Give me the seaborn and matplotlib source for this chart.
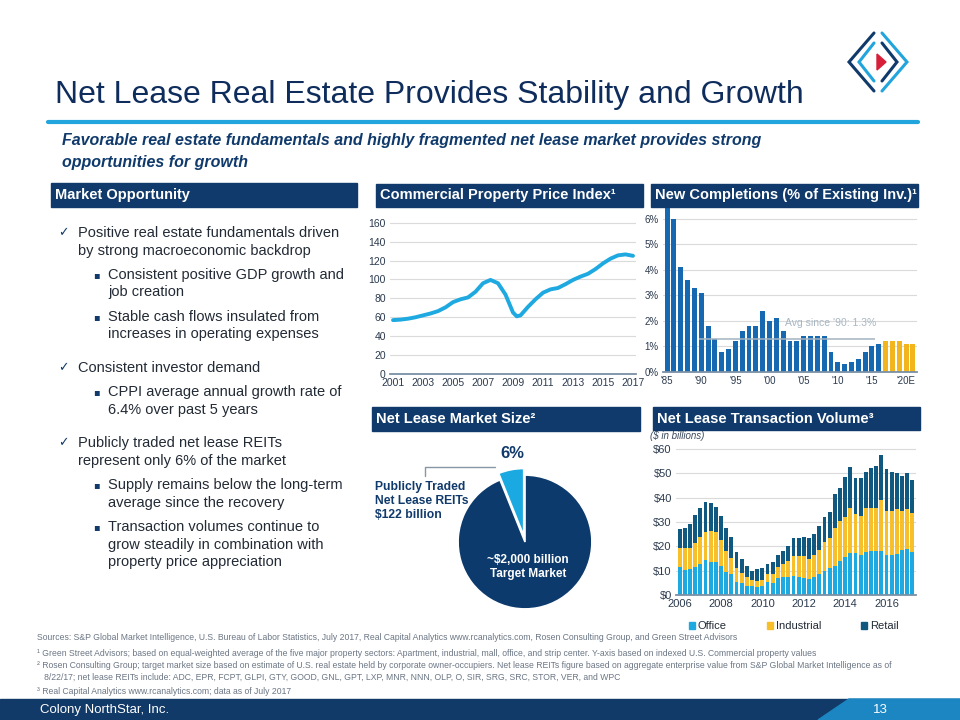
import numpy as np
import pandas as pd
import matplotlib
matplotlib.use("Agg")
import matplotlib.pyplot as plt
import seaborn as sns
from matplotlib.lines import Line2D
from matplotlib.patches import Rectangle, Polygon, Patch
from matplotlib import font_manager

# ---------------- data ----------------
# Commercial Property Price Index (half-year steps)
cppi_year = [2001.0, 2001.5, 2002.0, 2002.5, 2003.0, 2003.5, 2004.0, 2004.5, 2005.0, 2005.5,
             2006.0, 2006.5, 2007.0, 2007.5, 2008.0, 2008.5, 2009.0, 2009.25, 2009.5, 2010.0,
             2010.5, 2011.0, 2011.5, 2012.0, 2012.5, 2013.0, 2013.5, 2014.0, 2014.5, 2015.0,
             2015.5, 2016.0, 2016.5, 2017.0]
cppi_index = [57, 57.5, 58.5, 60, 62, 64, 66.5, 70.5, 76, 79,
              81, 87, 96, 99.5, 96, 84, 65, 61, 62, 71,
              79, 86, 89.5, 91, 95, 99.5, 103, 106, 111, 117,
              122, 125.5, 126.5, 125]

# New completions (% of existing inventory), 1985-2021E
compl_year = list(range(1985, 2022))
compl_pct = [6.4, 6.0, 4.1, 3.6, 3.3, 3.1, 1.8, 1.3, 0.8, 0.9,
             1.2, 1.6, 1.8, 1.8, 2.4, 2.0, 2.1, 1.6, 1.2, 1.2,
             1.4, 1.4, 1.4, 1.4, 0.8, 0.4, 0.3, 0.4, 0.5, 0.8,
             1.0, 1.1, 1.2, 1.2, 1.2, 1.1, 1.1]
compl_tick_years = [1985, 1990, 1995, 2000, 2005, 2010, 2015, 2020]
compl_tick_labels = ["'85", "'90", "'95", "'00", "'05", "'10", "'15", "'20E"]
first_estimate_year = 2017
avg_since_90 = 1.3

# Net lease market size ($ billions)
pie_parts = ["Publicly Traded Net Lease REITs", "Rest of Target Market"]
pie_values = [122, 1878]

# Net lease transaction volume ($ billions), quarterly 2006Q1-2017Q2
quarters = [f"{y}Q{q}" for y in range(2006, 2018) for q in range(1, 5)][:46]
office = [11.6, 10.3, 10.7, 11.4, 12.7, 14.4, 13.7, 13.6, 11.9, 9.3, 8.6, 5.5, 4.8, 3.7, 3.7, 3.4,
          3.8, 5.2, 4.8, 7.1, 7.5, 7.3, 7.9, 7.3, 7.1, 6.4, 7.3, 8.5, 9.9, 11.0, 11.9, 14.0,
          15.8, 17.1, 17.1, 16.4, 17.5, 18.2, 18.2, 18.2, 16.3, 16.3, 16.8, 18.5, 18.8, 17.7]
industrial = [7.9, 8.9, 8.8, 9.8, 11.3, 11.4, 12.7, 12.2, 10.7, 8.8, 6.7, 5.7, 4.4, 3.8, 2.5, 2.5,
              2.4, 3.4, 3.8, 4.3, 5.2, 6.7, 8.1, 8.7, 8.9, 8.4, 9.1, 10.0, 12.0, 12.6, 15.5, 16.4,
              16.4, 18.5, 16.2, 16.1, 18.1, 17.4, 17.4, 20.8, 18.4, 18.4, 18.5, 16.2, 16.4, 15.9]
retail = [7.6, 8.2, 9.7, 11.5, 11.6, 12.3, 11.3, 10.5, 10.0, 9.3, 8.7, 6.6, 5.5, 4.4, 3.8, 4.6,
          4.8, 4.1, 4.8, 5.0, 5.5, 6.3, 7.3, 7.3, 8.0, 8.8, 8.5, 10.0, 10.3, 10.6, 14.0, 13.4,
          16.4, 17.0, 14.9, 15.7, 15.1, 16.5, 17.4, 18.5, 17.2, 15.7, 14.7, 14.2, 14.8, 13.7]

# ---------------- style ----------------
NAVY = "#103a6b"
TITLE_NAVY = "#0f2d5c"
LIGHT_BLUE = "#22a4dc"
COMPL_BLUE = "#1669b0"
GOLD = "#f2b51d"
OFFICE_C = "#1ea9e1"
IND_C = "#f7c02b"
RETAIL_C = "#10587f"
TEXT_C = "#222a35"
TICK_C = "#2b3a4e"
GRID_C = "#dadada"

sns.set_style("white")
plt.rcParams["font.family"] = ["Liberation Sans", "DejaVu Sans"]

W, H = 960, 720
fig = plt.figure(figsize=(9.6, 7.2), dpi=100)


def fx(x):
    return x / W


def fy(y):
    return 1 - y / H


def add_ax(left, top, right, bottom):
    return fig.add_axes([fx(left), fy(bottom), (right - left) / W, (bottom - top) / H])


def header(left, top, right, bottom, text):
    fig.patches.append(Rectangle((fx(left), fy(bottom)), (right - left) / W, (bottom - top) / H,
                                 transform=fig.transFigure, color=NAVY, zorder=1))
    fig.text(fx(left + 4), fy((top + bottom) / 2), text, color="white", fontsize=10.5,
             fontweight="bold", va="center", ha="left")


def style_axes(ax, base_color="#7a90a6"):
    for s in ["top", "right", "left"]:
        ax.spines[s].set_visible(False)
    ax.spines["bottom"].set_color(base_color)
    ax.spines["bottom"].set_linewidth(1.3)
    ax.yaxis.grid(True, color=GRID_C, lw=0.8)
    ax.xaxis.grid(False)
    ax.set_axisbelow(True)
    ax.tick_params(length=0, colors=TICK_C)
    ax.set_xlabel("")
    ax.set_ylabel("")


# ---------------- title area ----------------
fig.text(fx(55), fy(95), "Net Lease Real Estate Provides Stability and Growth",
         fontsize=23, color=TITLE_NAVY, va="center", ha="left")
fig.lines.append(Line2D([fx(48), fx(918)], [fy(122), fy(122)], transform=fig.transFigure,
                        color=LIGHT_BLUE, lw=3))
fig.text(fx(62), fy(141), "Favorable real estate fundamentals and highly fragmented net lease market provides strong",
         fontsize=11.5, color=NAVY, fontweight="bold", style="italic", va="center")
fig.text(fx(62), fy(162), "opportunities for growth",
         fontsize=11.5, color=NAVY, fontweight="bold", style="italic", va="center")

# logo
logo = [((874, 33), (849, 62), (874, 91), NAVY),
        ((882, 33), (907, 62), (882, 91), LIGHT_BLUE),
        ((874, 43), (859, 62), (874, 81), LIGHT_BLUE),
        ((882, 43), (897, 62), (882, 81), NAVY)]
for a, b, c, col in logo:
    fig.lines.append(Line2D([fx(a[0]), fx(b[0]), fx(c[0])], [fy(a[1]), fy(b[1]), fy(c[1])],
                            transform=fig.transFigure, color=col, lw=2.2, solid_joinstyle="miter"))
fig.patches.append(Polygon([(fx(877), fy(54)), (fx(886), fy(62)), (fx(877), fy(70))],
                           closed=True, transform=fig.transFigure, color="#d71f3a"))

# ---------------- left column ----------------
header(51, 183, 357, 207, "Market Opportunity")
bullets = [
    ("check", 233, "Positive real estate fundamentals driven"),
    ("", 251, "by strong macroeconomic backdrop"),
    ("sq", 275, "Consistent positive GDP growth and"),
    ("", 292, "job creation"),
    ("sq", 317, "Stable cash flows insulated from"),
    ("", 334, "increases in operating expenses"),
    ("check", 368, "Consistent investor demand"),
    ("sq", 392, "CPPI average annual growth rate of"),
    ("", 410, "6.4% over past 5 years"),
    ("check", 443, "Publicly traded net lease REITs"),
    ("", 461, "represent only 6% of the market"),
    ("sq", 485, "Supply remains below the long-term"),
    ("", 503, "average since the recovery"),
    ("sq", 527, "Transaction volumes continue to"),
    ("", 545, "grow steadily in combination with"),
    ("", 562, "property price appreciation"),
]
level = "check"
for kind, y, txt in bullets:
    if kind:
        level = kind
    x_text = 78 if level == "check" else 108
    if kind == "check":
        fig.text(fx(58), fy(y), "\u2713", fontsize=9, color=NAVY, va="center",
                 family=["DejaVu Sans"])
    elif kind == "sq":
        fig.text(fx(93), fy(y), "\u25aa", fontsize=7, color=NAVY, va="center",
                 family=["DejaVu Sans"])
    fig.text(fx(x_text), fy(y), txt, fontsize=10.5, color=TEXT_C, va="center")

# ---------------- CPPI line ----------------
header(376, 184, 643, 207, "Commercial Property Price Index\u00b9")
ax1 = add_ax(390, 218, 636, 374)
sns.lineplot(x=cppi_year, y=cppi_index, color=OFFICE_C, lw=2.8, ax=ax1)
ax1.set_xlim(2000.8, 2017.2)
ax1.set_ylim(0, 165)
ax1.set_yticks(range(0, 161, 20))
ax1.set_xticks(range(2001, 2018, 2))
style_axes(ax1)
ax1.tick_params(labelsize=7.5, pad=3)

# ---------------- New completions ----------------
header(651, 184, 918, 207, "New Completions (% of Existing Inv.)\u00b9")
ax2 = add_ax(663, 207, 917, 372)
dfc = pd.DataFrame({"year": compl_year, "pct": compl_pct})
is_est = dfc["year"] >= first_estimate_year
for part, c in [(dfc[~is_est], COMPL_BLUE), (dfc[is_est], GOLD)]:
    sns.barplot(data=part, x="year", y="pct", order=compl_year, color=c, width=0.72,
                saturation=1, errorbar=None, linewidth=0, ax=ax2)
pos = {yr: i for i, yr in enumerate(compl_year)}
ax2.hlines(avg_since_90, pos[1990] - 0.4, pos[2015] + 0.4, color="#a3b3c0", lw=1.1, zorder=3)
ax2.text(pos[2002] + 0.3, 1.93, "Avg since '90: 1.3%", color="#a8b6c2", fontsize=7.5, va="center")
ax2.set_xlim(-0.6, len(compl_year) - 0.4)
ax2.set_ylim(0, 6.45)
ax2.set_yticks(range(0, 7))
ax2.set_yticklabels([f"{v}%" for v in range(0, 7)])
ax2.set_xticks([pos[y] for y in compl_tick_years])
ax2.set_xticklabels(compl_tick_labels)
style_axes(ax2)
ax2.tick_params(labelsize=7, pad=3)

# ---------------- Pie ----------------
header(372, 407, 640, 431, "Net Lease Market Size\u00b2")
ax3 = add_ax(438, 455, 612, 629)
ax3.pie(pie_values, colors=["#1ba9e1", "#0c3a6c"], startangle=90, counterclock=True,
        explode=[0.1, 0], wedgeprops=dict(edgecolor="white", linewidth=1.2))
ax3.set_xlim(-1.3, 1.3)
ax3.set_ylim(-1.3, 1.3)
ax3.set_aspect("equal")
ax3.axis("off")
share = pie_values[0] / sum(pie_values) * 100
fig.text(fx(512), fy(453), f"{share:.0f}%", fontsize=12, fontweight="bold", color=NAVY,
         ha="center", va="center")
fig.text(fx(375), fy(501), f"Publicly Traded\nNet Lease REITs\n${pie_values[0]} billion",
         fontsize=8.7, fontweight="bold", color=NAVY, ha="left", va="center", linespacing=1.2)
fig.text(fx(528), fy(567), f"~${sum(pie_values):,} billion\nTarget Market",
         fontsize=8.5, fontweight="bold", color="white", ha="center", va="center", linespacing=1.25)
fig.lines.append(Line2D([fx(425), fx(425), fx(495)], [fy(476), fy(467), fy(467)],
                        transform=fig.transFigure, color="#8797a6", lw=1))

# ---------------- Transaction volume ----------------
header(653, 407, 920, 430, "Net Lease Transaction Volume\u00b3")
fig.text(fx(650), fy(436), "($ in billions)", fontsize=7, style="italic", color="#3a4a5c", va="center")
ax4 = add_ax(676, 446.6, 916, 595)
dft = pd.DataFrame({"quarter": quarters, "Office": office, "Industrial": industrial, "Retail": retail})
dft["office_ind"] = dft["Office"] + dft["Industrial"]
dft["total"] = dft["office_ind"] + dft["Retail"]
for col, c in [("total", RETAIL_C), ("office_ind", IND_C), ("Office", OFFICE_C)]:
    sns.barplot(data=dft, x="quarter", y=col, color=c, width=0.74, saturation=1,
                errorbar=None, linewidth=0, ax=ax4)
ax4.set_xlim(-0.7, len(quarters) - 0.3)
ax4.set_ylim(0, 61)
ax4.set_yticks(range(0, 61, 10))
ax4.set_yticklabels([f"${v}" for v in range(0, 61, 10)])
ax4.set_xticks(range(0, len(quarters), 8))
ax4.set_xticklabels([quarters[i][:4] for i in range(0, len(quarters), 8)])
style_axes(ax4)
ax4.tick_params(labelsize=8, pad=3)
handles = [Patch(color=OFFICE_C), Patch(color=IND_C), Patch(color=RETAIL_C)]
ax4.legend(handles, ["Office", "Industrial", "Retail"], ncol=3, frameon=False, fontsize=8,
           loc="center", bbox_to_anchor=(0.49, -0.21), handlelength=0.55, handleheight=0.55,
           handletextpad=0.25, columnspacing=3.6, labelcolor=TEXT_C)

# ---------------- footnotes ----------------
names = {f.name for f in font_manager.fontManager.ttflist}
if "Liberation Sans Narrow" in names:
    fn_family, fn_size = ["Liberation Sans Narrow", "DejaVu Sans"], 6.6
else:
    fn_family, fn_size = ["Liberation Sans", "DejaVu Sans"], 6.2
notes = [
    (638, "Sources: S&P Global Market Intelligence, U.S. Bureau of Labor Statistics, July 2017, Real Capital Analytics www.rcanalytics.com, Rosen Consulting Group, and Green Street Advisors"),
    (653, "\u00b9 Green Street Advisors; based on equal-weighted average of the five major property sectors: Apartment, industrial, mall, office, and strip center. Y-axis based on indexed U.S. Commercial property values"),
    (666, "\u00b2 Rosen Consulting Group; target market size based on estimate of U.S. real estate held by corporate owner-occupiers. Net lease REITs figure based on aggregate enterprise value from S&P Global Market Intelligence as of"),
    (677, "   8/22/17; net lease REITs include: ADC, EPR, FCPT, GLPI, GTY, GOOD, GNL, GPT, LXP, MNR, NNN, OLP, O, SIR, SRG, SRC, STOR, VER, and WPC"),
    (692, "\u00b3 Real Capital Analytics www.rcanalytics.com; data as of July 2017"),
]
for y, t in notes:
    fig.text(fx(37), fy(y), t, fontsize=fn_size, color="#6b7684", va="center", family=fn_family)

# ---------------- footer ----------------
fig.patches.append(Rectangle((0, 0), 1, 21 / H, transform=fig.transFigure, color="#123a68", zorder=1))
fig.patches.append(Polygon([(fx(818), 0), (fx(849), 21 / H), (1, 21 / H), (1, 0)], closed=True,
                           transform=fig.transFigure, color="#1b86c2", zorder=2))
fig.text(fx(40), fy(710), "Colony NorthStar, Inc.", color="white", fontsize=9.5, va="center")
fig.text(fx(873), fy(710), "13", color="white", fontsize=9.5, va="center")

fig.savefig("out.png", dpi=100)
